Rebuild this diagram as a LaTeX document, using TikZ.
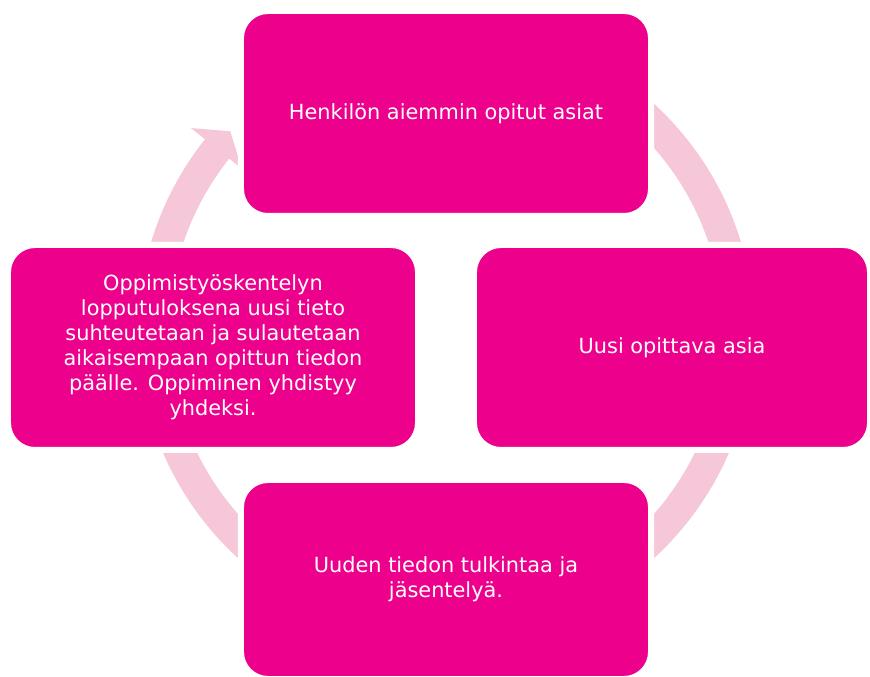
\documentclass[tikz,border=0pt]{standalone}
\usepackage{fontspec}
\setmainfont{DejaVu Sans}

\definecolor{boxpink}{RGB}{236,0,140}
\definecolor{ringpink}{RGB}{246,199,216}

\begin{document}
\begin{tikzpicture}[x = 0.03cm, y = 0.03cm,
	stage/.style = {rectangle, rounded corners = 0.81cm, fill = boxpink,
		draw = white, line width = 0.18cm, inner sep = 0pt,
		text = white, align = center,
		font = \fontsize{17.8}{21.3}\selectfont}]

\useasboundingbox (0, 0) rectangle (870, 677);

	% Cycle arrow behind the boxes

	\begin{scope}[shift = {(446, 346)}]
	\fill [ringpink] (90:308) arc [start angle = 90, end angle = -218.5, radius = 308]
		-- (-218.5:326) -- (-222.8:294) -- (-218.5:261) -- (-218.5:277)
		arc [start angle = -218.5, end angle = 90, radius = 277] -- cycle;
	\end{scope}

	% Stages of the cycle

	\node [stage, minimum width = 12.3cm, minimum height = 6.15cm] (prior) at (446, 563.5)
		{Henkilön aiemmin opitut asiat};
	\node [stage, minimum width = 11.88cm, minimum height = 6.15cm] (new) at (672, 329.5)
		{Uusi opittava asia};
	\node [stage, minimum width = 12.3cm, minimum height = 5.97cm] (interpret) at (446, 97.5)
		{Uuden tiedon tulkintaa ja\\jäsentelyä.};
	\node [stage, minimum width = 12.3cm, minimum height = 6.15cm] (merge) at (213, 329.5)
		{Oppimistyöskentelyn\\lopputuloksena uusi tieto\\suhteutetaan ja sulautetaan\\aikaisempaan opittun tiedon\\päälle. Oppiminen yhdistyy\\yhdeksi.};

\end{tikzpicture}
\end{document}
